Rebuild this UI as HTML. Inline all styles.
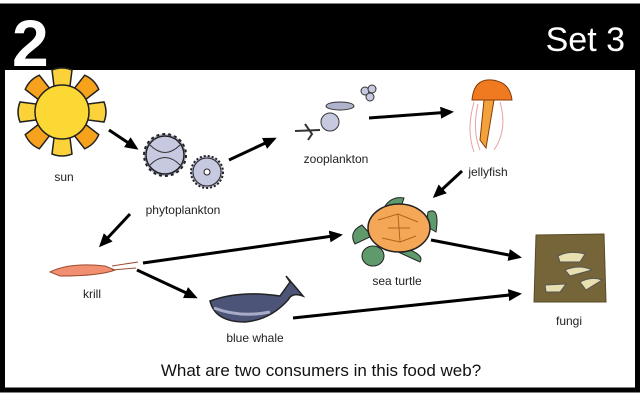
<!DOCTYPE html>
<html><head><meta charset="utf-8"><style>
html,body{margin:0;padding:0;background:#fff;width:642px;height:404px;overflow:hidden}
svg text{font-family:"Liberation Sans","DejaVu Sans",sans-serif}
</style></head><body>
<svg width="642" height="404" viewBox="0 0 642 404" xmlns="http://www.w3.org/2000/svg">
<defs>
<marker id="a" markerWidth="4.5" markerHeight="4" refX="3.5" refY="2" orient="auto" markerUnits="strokeWidth"><path d="M0,0 L4.5,2 L0,4 z" fill="#000"/></marker>
</defs>
<rect x="0" y="0" width="642" height="404" fill="#fff"/>
<rect x="2.5" y="6" width="635" height="384" fill="#fff" stroke="#000" stroke-width="5"/>
<rect x="0" y="5" width="640" height="65" fill="#000"/>
<text x="12" y="66" font-size="66" font-weight="bold" fill="#fff">2</text>
<text x="625" y="51" font-size="34" fill="#fff" text-anchor="end">Set 3</text>

<!-- sun -->
<g transform="translate(62,112)" stroke="#222" stroke-width="1.5">
<g fill="#f6a21c">
<path d="M-8,-26 L-10,-42 Q0,-46 10,-42 L8,-26z" transform="rotate(45)"/>
<path d="M-8,-26 L-10,-42 Q0,-46 10,-42 L8,-26z" transform="rotate(135)"/>
<path d="M-8,-26 L-10,-42 Q0,-46 10,-42 L8,-26z" transform="rotate(225)"/>
<path d="M-8,-26 L-10,-42 Q0,-46 10,-42 L8,-26z" transform="rotate(315)"/>
</g>
<g fill="#fbd23a">
<path d="M-8,-26 L-10,-42 Q0,-46 10,-42 L8,-26z"/>
<path d="M-8,-26 L-10,-42 Q0,-46 10,-42 L8,-26z" transform="rotate(90)"/>
<path d="M-8,-26 L-10,-42 Q0,-46 10,-42 L8,-26z" transform="rotate(180)"/>
<path d="M-8,-26 L-10,-42 Q0,-46 10,-42 L8,-26z" transform="rotate(270)"/>
</g>
<circle r="27" fill="#fcd835"/>
</g>
<text x="64" y="181" font-size="12" text-anchor="middle" fill="#222">sun</text>

<!-- phytoplankton -->
<circle cx="165" cy="155" r="21" fill="#b9bcd6" stroke="#222" stroke-width="2" stroke-dasharray="3 3"/>
<circle cx="165" cy="155" r="19" fill="#c7c9e0" stroke="#222" stroke-width="1.5"/>
<path d="M150,145 Q165,160 180,145 M150,165 Q165,150 180,165" stroke="#333" fill="none"/>
<circle cx="207" cy="172" r="16" fill="#b9bcd6" stroke="#222" stroke-width="2" stroke-dasharray="2 2"/>
<circle cx="207" cy="172" r="14" fill="#c7c9e0" stroke="#222"/>
<circle cx="207" cy="172" r="3" fill="#fff" stroke="#222"/>
<text x="183" y="214" font-size="12" text-anchor="middle" fill="#222">phytoplankton</text>

<!-- zooplankton -->
<circle cx="365" cy="91" r="4" fill="#c7c9e0" stroke="#333"/>
<circle cx="372" cy="89" r="4" fill="#c7c9e0" stroke="#333"/>
<circle cx="370" cy="97" r="4" fill="#c7c9e0" stroke="#333"/>
<ellipse cx="340" cy="106" rx="14" ry="4" fill="#b0b3cc" stroke="#333"/>
<circle cx="330" cy="122" r="9" fill="#c7c9e0" stroke="#333"/>
<path d="M295,131 L320,130 M305,124 L312,134 L308,140" stroke="#333" stroke-width="2" fill="none"/>
<text x="336" y="163" font-size="12" text-anchor="middle" fill="#222">zooplankton</text>

<!-- jellyfish -->
<path d="M472,100 Q474,78 492,80 Q510,82 512,100z" fill="#f07a1f" stroke="#8a3a08"/>
<path d="M484,100 L480,140 L486,148 L494,100z" fill="#f2a23a" stroke="#8a3a08"/>
<path d="M474,102 Q466,130 474,152 M500,102 Q508,130 494,150 M478,104 Q472,130 480,150" stroke="#e8a0a0" fill="none"/>
<text x="488" y="176" font-size="12" text-anchor="middle" fill="#222">jellyfish</text>

<!-- sea turtle -->
<path d="M362,225 Q348,232 355,244 L372,236z" fill="#5e9a6c" stroke="#222"/>
<path d="M385,206 Q392,196 404,198 L400,210z" fill="#5e9a6c" stroke="#222"/>
<path d="M428,212 Q440,206 436,232 L426,226z" fill="#5e9a6c" stroke="#222"/>
<path d="M405,248 Q425,255 420,262 L398,252z" fill="#5e9a6c" stroke="#222"/>
<ellipse cx="373" cy="256" rx="11" ry="10" fill="#5e9a6c" stroke="#222"/>
<ellipse cx="399" cy="228" rx="31" ry="24" fill="#f3a757" stroke="#222" stroke-width="1.5"/>
<path d="M378,220 L398,214 L418,222 M382,238 L400,242 L416,236 M398,214 L400,242 M388,228 L410,228" stroke="#b0651e" fill="none"/>
<text x="397" y="285" font-size="12" text-anchor="middle" fill="#222">sea turtle</text>

<!-- fungi -->
<path d="M536,235 L604,234 L606,302 L534,302z" fill="#756538" stroke="#5a4a25"/>
<path d="M558,256 Q570,250 585,254 L580,262 L560,262z M565,270 Q580,264 592,270 L570,276z M545,285 L566,284 L560,292 L546,292z M580,282 Q592,276 602,280 L586,290z" fill="#e8e0b0" stroke="#555"/>
<text x="569" y="325" font-size="12" text-anchor="middle" fill="#222">fungi</text>

<!-- krill -->
<path d="M50,272 Q70,262 105,266 L115,270 Q100,276 60,276z" fill="#f08f72" stroke="#a04a30"/>
<path d="M112,266 L138,262 M112,270 L136,268" stroke="#a04a30"/>
<text x="92" y="298" font-size="12" text-anchor="middle" fill="#222">krill</text>

<!-- blue whale -->
<path d="M210,301 Q240,290 280,296 L290,282 L286,276 L298,290 L303,296 Q292,292 288,300 Q270,320 245,322 Q215,322 210,301z" fill="#4c5477" stroke="#222" stroke-width="1.5"/>
<path d="M214,308 Q240,318 270,312" stroke="#a8acc8" stroke-width="3" fill="none"/>
<text x="255" y="342" font-size="12" text-anchor="middle" fill="#222">blue whale</text>

<!-- arrows -->
<g stroke="#000" stroke-width="3" fill="none" marker-end="url(#a)">
<line x1="109" y1="130" x2="136" y2="148"/>
<line x1="229" y1="160" x2="274" y2="139"/>
<line x1="369" y1="118" x2="451" y2="112"/>
<line x1="462" y1="171" x2="435" y2="196"/>
<line x1="130" y1="214" x2="101" y2="245"/>
<line x1="143" y1="263" x2="340" y2="235"/>
<line x1="137" y1="270" x2="195" y2="297"/>
<line x1="431" y1="240" x2="519" y2="257"/>
<line x1="293" y1="318" x2="519" y2="294"/>
</g>

<text x="321" y="376" font-size="17" text-anchor="middle" fill="#111">What are two consumers in this food web?</text>
</svg>
</body></html>
